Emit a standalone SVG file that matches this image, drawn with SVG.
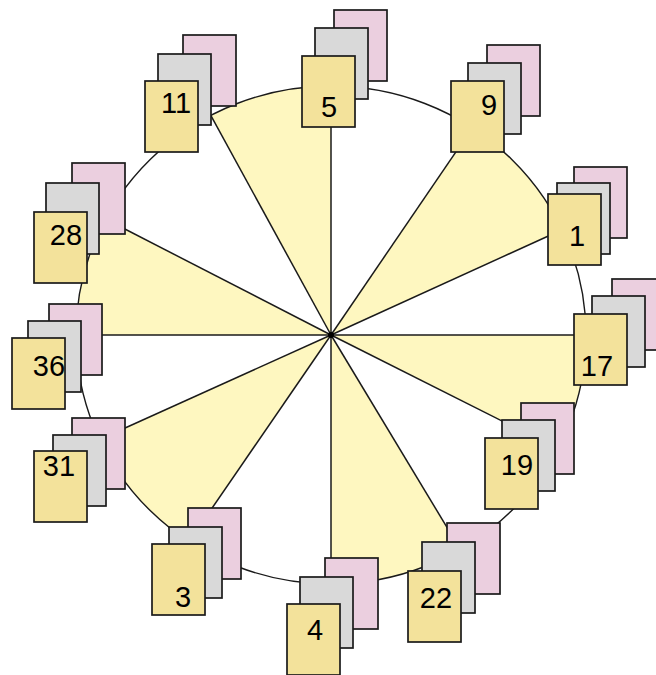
<svg xmlns="http://www.w3.org/2000/svg" width="656" height="675" viewBox="0 0 656 675">
<style>
.w{fill:#FEF7C0;stroke:none}
.sp{stroke:#1a1a1a;stroke-width:1.5;fill:none}
.ring{fill:none;stroke:#1a1a1a;stroke-width:1.4}
.p{fill:#EBCFDF;stroke:#1a1a1a;stroke-width:1.7}
.g{fill:#D9D9D9;stroke:#1a1a1a;stroke-width:1.7}
.f{fill:#F3E29B;stroke:#1a1a1a;stroke-width:1.7}
.t{font-family:"Liberation Sans",Arial,sans-serif;font-size:29px;fill:#000;text-anchor:middle}
</style>
<rect width="656" height="675" fill="#fff"/>
<g id="wedges">
<path class="w" d="M331 335 L210.8 115.4 A255 249 0 0 1 331 86 Z"/>
<path class="w" d="M331 335 L472.3 127.8 A255 249 0 0 1 562.1 229.7 Z"/>
<path class="w" d="M331 335 L586 335 A255 249 0 0 1 557.7 449 Z"/>
<path class="w" d="M331 335 L460.4 549.6 A255 249 0 0 1 331 584 Z"/>
<path class="w" d="M331 335 L188.9 541.8 A255 249 0 0 1 99.6 439.5 Z"/>
<path class="w" d="M331 335 L76 335 A255 249 0 0 1 105.4 219 Z"/>
</g>
<g id="connectors">
<ellipse class="ring" cx="331" cy="335" rx="255" ry="249"/>
<line class="sp" x1="331" y1="335" x2="331" y2="86"/>
<line class="sp" x1="331" y1="335" x2="210.8" y2="115.4"/>
<line class="sp" x1="331" y1="335" x2="105.4" y2="219"/>
<line class="sp" x1="331" y1="335" x2="76" y2="335"/>
<line class="sp" x1="331" y1="335" x2="99.6" y2="439.5"/>
<line class="sp" x1="331" y1="335" x2="188.9" y2="541.8"/>
<line class="sp" x1="331" y1="335" x2="331" y2="584"/>
<line class="sp" x1="331" y1="335" x2="460.4" y2="549.6"/>
<line class="sp" x1="331" y1="335" x2="557.7" y2="449"/>
<line class="sp" x1="331" y1="335" x2="586" y2="335"/>
<line class="sp" x1="331" y1="335" x2="562.1" y2="229.7"/>
<line class="sp" x1="331" y1="335" x2="472.3" y2="127.8"/>
<circle cx="331" cy="335" r="3" fill="#000"/>
</g>
<g id="n5"><rect class="p" x="334" y="10" width="53" height="71"/><rect class="g" x="315" y="28" width="53" height="71"/><rect class="f" x="302" y="56" width="53" height="71"/><text class="t" x="329" y="117">5</text></g>
<g id="n11"><rect class="p" x="183" y="35" width="53" height="71"/><rect class="g" x="158" y="54" width="53" height="71"/><rect class="f" x="145" y="81" width="53" height="71"/><text class="t" x="176" y="113">11</text></g>
<g id="n9"><rect class="p" x="487" y="45" width="53" height="71"/><rect class="g" x="468" y="63" width="53" height="71"/><rect class="f" x="451" y="81" width="53" height="71"/><text class="t" x="489" y="115">9</text></g>
<g id="n1"><rect class="p" x="574" y="167" width="53" height="71"/><rect class="g" x="557" y="183" width="53" height="71"/><rect class="f" x="548" y="194" width="53" height="71"/><text class="t" x="577" y="246">1</text></g>
<g id="n17"><rect class="p" x="612" y="279" width="53" height="71"/><rect class="g" x="592" y="296" width="53" height="71"/><rect class="f" x="574" y="314" width="53" height="71"/><text class="t" x="597" y="376">17</text></g>
<g id="n19"><rect class="p" x="521" y="403" width="53" height="71"/><rect class="g" x="502" y="420" width="53" height="71"/><rect class="f" x="485" y="438" width="53" height="71"/><text class="t" x="517" y="475">19</text></g>
<g id="n22"><rect class="p" x="447" y="523" width="53" height="71"/><rect class="g" x="422" y="542" width="53" height="71"/><rect class="f" x="408" y="571" width="53" height="71"/><text class="t" x="436" y="608">22</text></g>
<g id="n4"><rect class="p" x="325" y="558" width="53" height="71"/><rect class="g" x="300" y="577" width="53" height="71"/><rect class="f" x="287" y="604" width="53" height="71"/><text class="t" x="315" y="640">4</text></g>
<g id="n3"><rect class="p" x="188" y="508" width="53" height="71"/><rect class="g" x="169" y="527" width="53" height="71"/><rect class="f" x="152" y="544" width="53" height="71"/><text class="t" x="183" y="607">3</text></g>
<g id="n31"><rect class="p" x="72" y="418" width="53" height="71"/><rect class="g" x="53" y="435" width="53" height="71"/><rect class="f" x="34" y="451" width="53" height="71"/><text class="t" x="59" y="476">31</text></g>
<g id="n36"><rect class="p" x="49" y="304" width="53" height="71"/><rect class="g" x="28" y="321" width="53" height="71"/><rect class="f" x="12" y="338" width="53" height="71"/><text class="t" x="49" y="376">36</text></g>
<g id="n28"><rect class="p" x="72" y="163" width="53" height="71"/><rect class="g" x="46" y="183" width="53" height="71"/><rect class="f" x="34" y="212" width="53" height="71"/><text class="t" x="66" y="245">28</text></g>
</svg>
